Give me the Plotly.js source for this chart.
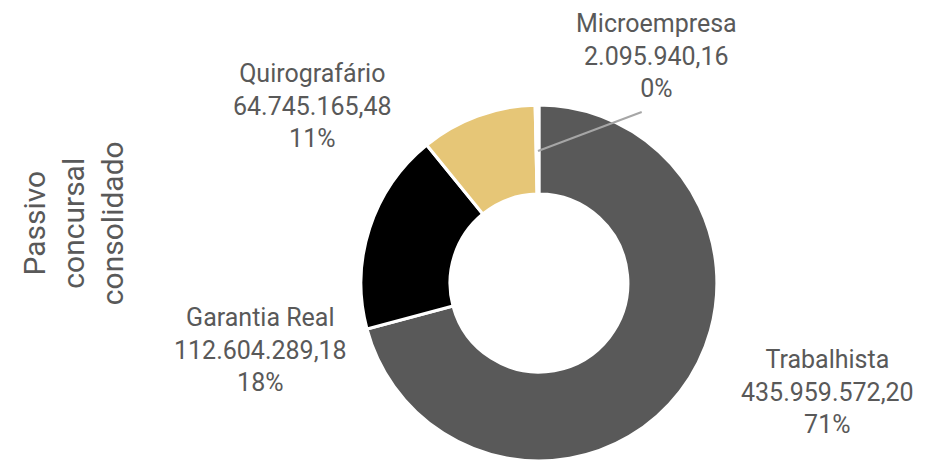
<!DOCTYPE html>
<html>
<head>
<meta charset="utf-8">
<script src="https://cdn.plot.ly/plotly-3.0.1.min.js"></script>
<style>html,body{margin:0;padding:0;background:#fff;}#chart{width:930px;height:461px;}</style>
</head>
<body>
<div id="chart"></div>
<script>
const categories = ["Trabalhista", "Garantia Real", "Quirografário", "Microempresa"];
const values = [435959572.20, 112604289.18, 64745165.48, 2095940.16];
const sliceColors = ["#595959", "#000000", "#E6C677", "#FFFFFF"];
const chartTitle = "Passivo<br>concursal<br>consolidado";

function fmtBR(v) {
  const parts = v.toFixed(2).split(".");
  const intPart = parts[0].replace(/\B(?=(\d{3})+(?!\d))/g, ".");
  return intPart + "," + parts[1];
}
const total = values.reduce((a, b) => a + b, 0);
const labelTexts = categories.map((c, i) =>
  c + "<br>" + fmtBR(values[i]) + "<br>" + Math.round(values[i] / total * 100) + "%");

// label placement (paper coords), in category order
const labelPos = [
  [0.890, 0.150],
  [0.280, 0.241],
  [0.336, 0.770],
  [0.706, 0.879]
];

const textColor = "#595959";
const font = {family: "Roboto, sans-serif", size: 25, color: textColor};

const annotations = labelTexts.map((t, i) => ({
  text: t, xref: "paper", yref: "paper",
  x: labelPos[i][0], y: labelPos[i][1],
  xanchor: "center", yanchor: "middle",
  showarrow: false, font: font, align: "center"
}));
annotations.push({
  text: chartTitle, xref: "paper", yref: "paper",
  x: 0.0785, y: 0.516, xanchor: "center", yanchor: "middle",
  textangle: -90, showarrow: false, align: "center",
  font: {family: "Roboto, sans-serif", size: 30, color: textColor}
});

const data = [{
  type: "pie",
  labels: categories,
  values: values,
  sort: false,
  direction: "clockwise",
  rotation: 0,
  hole: 0.5,
  marker: {colors: sliceColors, line: {color: "#FFFFFF", width: 3}},
  textinfo: "none",
  hoverinfo: "skip",
  showlegend: false,
  domain: {x: [0.386, 0.773], y: [0, 0.772]}
}];

const layout = {
  width: 930, height: 461,
  margin: {l: 0, r: 0, t: 0, b: 0},
  paper_bgcolor: "#FFFFFF",
  showlegend: false,
  annotations: annotations,
  shapes: [{
    type: "line", xref: "paper", yref: "paper",
    x0: 0.5785, y0: 0.6725, x1: 0.690, y1: 0.757,
    line: {color: "#A6A6A6", width: 2}
  }]
};

Plotly.newPlot("chart", data, layout, {displayModeBar: false, staticPlot: true});
</script>
</body>
</html>
